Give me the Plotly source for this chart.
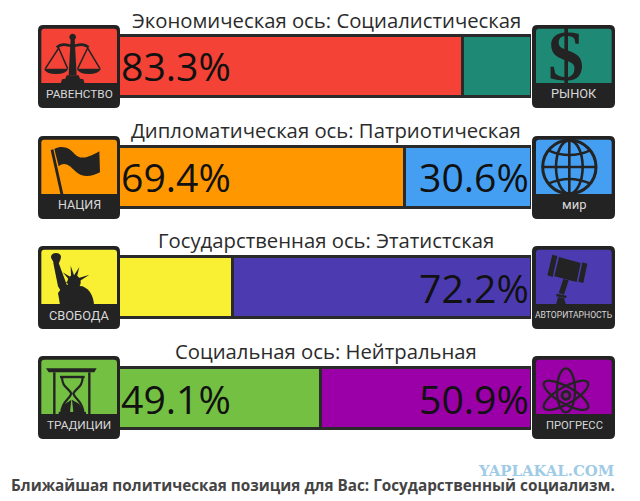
import math
import plotly.graph_objects as go

W, H = 640, 501
axes_titles = ["Экономическая ось: Социалистическая", "Дипломатическая ось: Патриотическая",
               "Государственная ось: Этатистская", "Социальная ось: Нейтральная"]
left_values = [83.3, 69.4, 27.8, 49.1]
right_values = [16.7, 30.6, 72.2, 50.9]
left_colors = ["#f44336", "#ff9800", "#f9f034", "#74c043"]
right_colors = ["#1e8a75", "#449ff3", "#4c3bb0", "#9b00a8"]
left_labels = ["РАВЕНСТВО", "НАЦИЯ", "СВОБОДА", "ТРАДИЦИИ"]
right_labels = ["РЫНОК", "мир", "АВТОРИТАРНОСТЬ", "ПРОГРЕСС"]
label_sizes_left = [11.8, 12.5, 12.8, 11.8]
label_sizes_right = [12.8, 13, 8.6, 11.2]
footer = "Ближайшая политическая позиция для Вас: Государственный социализм."
watermark = "YAPLAKAL.COM"
show_from = 30

DARK = "#232323"
row_origin = [22, 133, 243, 353]   # icon cell tops


def fx(px):
    return px / W


def fy(py):
    return 1 - py / H


class Icon:
    """Path builder in a 270-unit cell (3 units per pixel)."""

    def __init__(self, ox, oy):
        self.ox, self.oy = ox, oy

    def p(self, u, v):
        return f"{fx(self.ox + u / 3):.5f},{fy(self.oy + v / 3):.5f}"

    def path(self, *cmds):
        out = []
        for c in cmds:
            if isinstance(c, str):
                out.append(c)
            else:
                out.append(self.p(*c))
        return " ".join(out)

    def poly(self, pts):
        return "M " + " L ".join(self.p(*q) for q in pts) + " Z"

    def line(self, *pts):
        return "M " + " L ".join(self.p(*q) for q in pts)

    def ellipse(self, cx, cy, rx, ry, ang=0):
        k = 0.5523
        a = math.radians(ang)

        def r(x, y):
            return (cx + x * math.cos(a) - y * math.sin(a), cy + x * math.sin(a) + y * math.cos(a))
        seg = [((rx, k * ry), (k * rx, ry), (0, ry)), ((-k * rx, ry), (-rx, k * ry), (-rx, 0)),
               ((-rx, -k * ry), (-k * rx, -ry), (0, -ry)), ((k * rx, -ry), (rx, -k * ry), (rx, 0))]
        s = "M " + self.p(*r(rx, 0))
        for c1, c2, e in seg:
            s += " C " + " ".join(self.p(*r(*q)) for q in (c1, c2, e))
        return s + " Z"

    def rrect(self, x0, y0, x1, y1, rt, rb):
        return self.path(
            "M", (x0 + rt, y0), "L", (x1 - rt, y0), "Q", (x1, y0), (x1, y0 + rt),
            "L", (x1, y1 - rb), "Q", (x1, y1), (x1 - rb, y1),
            "L", (x0 + rb, y1), "Q", (x0, y1), (x0, y1 - rb),
            "L", (x0, y0 + rt), "Q", (x0, y0), (x0 + rt, y0), "Z")


shapes = []


def fill(d, color=DARK):
    shapes.append(dict(type="path", xref="paper", yref="paper", path=d, fillcolor=color,
                       line=dict(width=0)))


def stroke(d, w=2.2, color=DARK):
    shapes.append(dict(type="path", xref="paper", yref="paper", path=d, fillcolor="rgba(0,0,0,0)",
                       line=dict(color=color, width=w)))


def box(ic, color, right=False):
    x0, x1 = (6, 255) if right else (6, 252)
    ix0, ix1 = (18, 245) if right else (16, 243)
    fill(ic.rrect(x0, 9, x1, 258, 16, 16))
    fill(ic.rrect(ix0, 20, ix1, 183, 9, 0), color)


def scales(i):
    fill(i.ellipse(110, 45, 10, 10))
    fill(i.poly([(104, 50), (116, 50), (122, 160), (98, 160)]))
    stroke(i.path("M", (62, 76), "C", (80, 62), (95, 70), (110, 72), "C", (125, 70), (140, 62), (158, 76)), 2.6)
    stroke(i.line((28, 140), (68, 78), (95, 140)), 1.5)
    stroke(i.line((125, 140), (155, 78), (192, 140)), 1.5)
    fill(i.path("M", (24, 140), "L", (97, 140), "Q", (90, 156), (60, 156), "Q", (30, 156), (24, 140), "Z"))
    fill(i.path("M", (122, 140), "L", (195, 140), "Q", (188, 156), (158, 156), "Q", (130, 156), (122, 140), "Z"))
    fill(i.poly([(92, 160), (128, 160), (132, 170), (142, 172), (146, 185), (74, 185), (78, 172), (88, 170)]))


def flag(i):
    stroke(i.line((48, 50), (78, 185)), 2.8)
    fill(i.path("M", (55, 48), "C", (80, 35), (100, 45), (115, 62), "C", (135, 85), (165, 70), (190, 55),
                "L", (192, 118), "C", (165, 132), (140, 135), (118, 115),
                "C", (100, 95), (85, 85), (68, 100), "Z"))


def liberty(i):
    fill(i.ellipse(60, 42, 15, 12))
    fill(i.poly([(48, 48), (74, 48), (68, 62), (54, 62)]))
    fill(i.poly([(52, 60), (68, 60), (94, 130), (78, 150), (66, 130)]))
    fill(i.ellipse(114, 118, 20, 22))
    for tip, base in [((80, 88), (104, 108)), ((104, 68), (110, 100)), ((130, 72), (118, 100)),
                      ((160, 95), (128, 110)), ((88, 118), (104, 118))]:
        dx, dy = base[0] - tip[0], base[1] - tip[1]
        n = math.hypot(dx, dy)
        ox, oy = -dy / n * 5, dx / n * 5
        fill(i.poly([tip, (base[0] + ox, base[1] + oy), (base[0] - ox, base[1] - oy)]))
    fill(i.path("M", (72, 185), "L", (66, 150), "L", (85, 125), "L", (140, 130), "C", (162, 140), (172, 160), (174, 185), "Z"))


def hourglass(i):
    fill(i.poly([(30, 46), (182, 46), (175, 58), (38, 58)]))
    stroke(i.line((55, 58), (55, 183)), 2.4)
    stroke(i.line((160, 58), (160, 183)), 2.4)
    stroke(i.line((72, 72), (146, 72)), 2.4)
    stroke(i.path("M", (78, 72), "C", (78, 105), (100, 105), (106, 122), "C", (100, 140), (78, 145), (76, 178)), 2.2)
    stroke(i.path("M", (140, 72), "C", (140, 105), (118, 105), (112, 122), "C", (118, 140), (140, 145), (142, 178)), 2.2)
    fill(i.path("M", (108, 140), "C", (120, 150), (140, 150), (140, 178), "L", (112, 178), "Z"))
    fill(i.path("M", (106, 140), "C", (96, 150), (76, 150), (76, 178), "L", (102, 178), "Z"))
    stroke(i.line((68, 180), (150, 180)), 2.2)


def globe(i):
    stroke(i.ellipse(118, 102, 80, 80), 3)
    stroke(i.ellipse(118, 102, 40, 80), 2.6)
    stroke(i.line((118, 22), (118, 182)), 2.6)
    stroke(i.line((38, 102), (198, 102)), 2.6)
    stroke(i.path("M", (55, 52), "Q", (118, 80), (181, 52)), 2.6)
    stroke(i.path("M", (55, 152), "Q", (118, 124), (181, 152)), 2.6)


def gavel(i):
    fill(i.poly([(67, 35), (82, 39), (68, 102), (52, 97)]))
    fill(i.poly([(87, 42), (152, 60), (140, 117), (73, 100)]))
    fill(i.poly([(157, 58), (172, 62), (160, 120), (145, 116)]))
    fill(i.poly([(100, 108), (116, 112), (102, 155), (86, 150)]))
    fill(i.poly([(80, 152), (110, 158), (108, 166), (78, 160)]))
    fill(i.poly([(84, 162), (102, 166), (108, 185), (78, 185)]))


def atom(i):
    stroke(i.ellipse(108, 127, 76, 25, 30), 2.3)
    stroke(i.ellipse(108, 127, 76, 25, -30), 2.3)
    stroke(i.ellipse(108, 112, 27, 66, 0), 2.3)
    fill(i.ellipse(108, 127, 16, 16))
    fill(i.ellipse(108, 127, 8, 8), "#7a1a80")


left_icons = [scales, flag, liberty, hourglass]
right_icons = [None, globe, gavel, atom]

annotations = []


def text(x, y, s, size, color, family="Open Sans", bold=False, anchor="center"):
    annotations.append(dict(
        x=fx(x), y=fy(y), xref="paper", yref="paper", text=f"<b>{s}</b>" if bold else s,
        showarrow=False, xanchor=anchor, yanchor="middle",
        font=dict(size=size, color=color, family=family)))


for r, oy in enumerate(row_origin):
    li, ri = Icon(36, oy), Icon(530, oy)
    box(li, left_colors[r])
    box(ri, right_colors[r], right=True)
    left_icons[r](li)
    if right_icons[r]:
        right_icons[r](ri)
    text(79, oy + 72, left_labels[r], label_sizes_left[r], "#d8d8d8", family="Roboto")
    text(574, oy + 72, right_labels[r], label_sizes_right[r], "#d8d8d8", family="Roboto")

title_y = [20, 130, 240, 351]
for t, y in zip(axes_titles, title_y):
    text(326, y, t, 20.3, "#2b2b2b")
text(566, 56, "$", 72, DARK, family="Liberation Serif", bold=True)
text(545.5, 471, watermark, 14.9, "#a0cbe6", family="DejaVu Serif", bold=True)
text(313, 485, footer, 15.3, "#444444", bold=True)


def pct(values):
    return [f"{v:.1f}%" if v >= show_from else "" for v in values]


PCT_FONT = dict(size=39.2, color="#111111", family="Open Sans")

fig = go.Figure()
fig.add_trace(go.Bar(
    y=axes_titles, x=left_values, orientation="h",
    marker=dict(color=left_colors, line=dict(color="#2a2a2a", width=3)),
    text=pct(left_values), textposition="inside", insidetextanchor="start", textangle=0,
    constraintext="none", textfont=PCT_FONT, showlegend=False, hoverinfo="skip"))
fig.add_trace(go.Bar(
    y=axes_titles, x=right_values, orientation="h",
    marker=dict(color=right_colors, line=dict(color="#2a2a2a", width=3)),
    showlegend=False, hoverinfo="skip"))

# Right-hand percentages sit tight against the bar end, closer than bar text padding allows
for cat, label in zip(axes_titles, pct(right_values)):
    if label:
        annotations.append(dict(x=100, y=cat, xref="x", yref="y", text=label, showarrow=False,
                                xanchor="right", yanchor="middle", font=PCT_FONT))

fig.update_layout(
    width=W, height=H, margin=dict(l=0, r=0, t=0, b=0), barmode="stack", bargap=0.45,
    paper_bgcolor="white", plot_bgcolor="white", showlegend=False,
    xaxis=dict(range=[0, 100], domain=[118 / W, 531 / W], visible=False, fixedrange=True),
    yaxis=dict(domain=[1 - 453.4 / H, 1 - 10.6 / H], autorange="reversed", visible=False,
               type="category", fixedrange=True),
    shapes=shapes, annotations=annotations)

fig.write_html("out.html", config=dict(displayModeBar=False),
               post_script="document.body.style.margin='0';document.body.style.overflow='hidden';")
